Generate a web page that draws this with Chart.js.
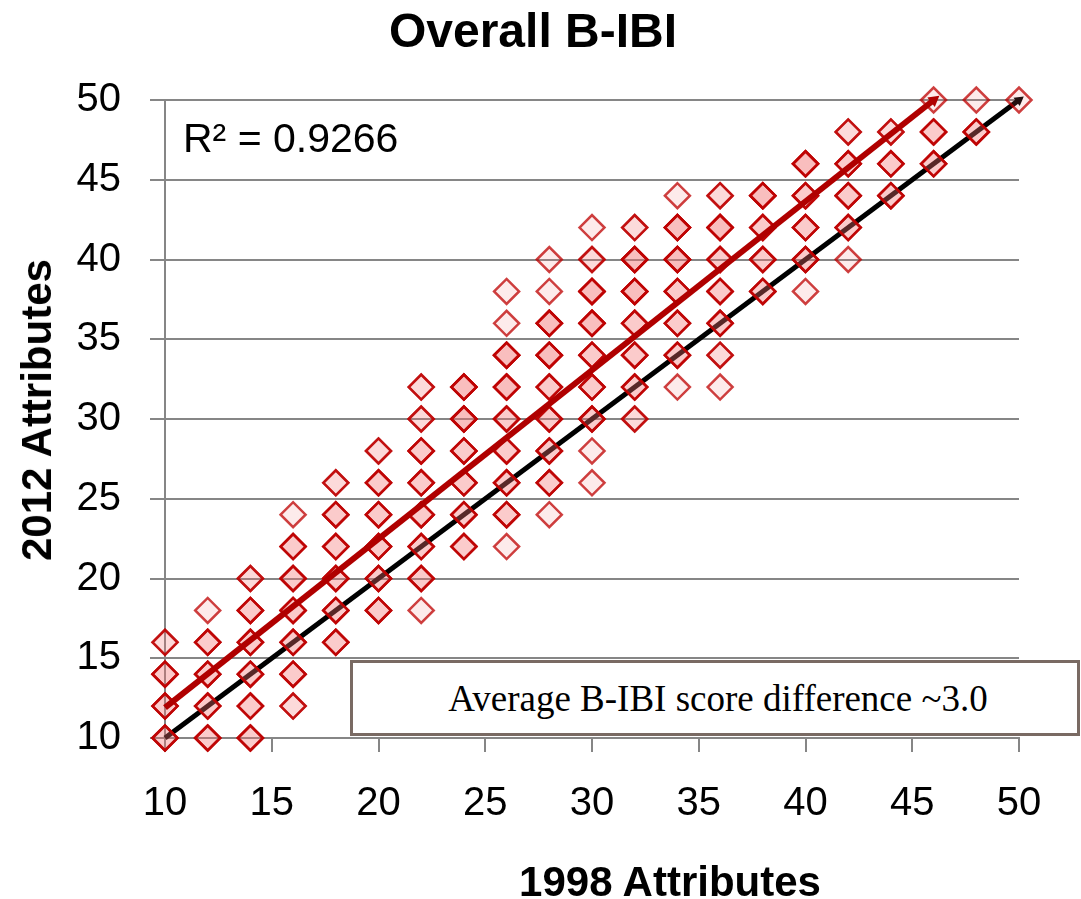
<!DOCTYPE html>
<html><head><meta charset="utf-8">
<script src="https://cdn.jsdelivr.net/npm/chart.js@4/dist/chart.umd.min.js"></script>
<style>
body{margin:0;background:#fff;}
#wrap{position:relative;width:1081px;height:899px;overflow:hidden;font-family:'Liberation Sans',Arial,sans-serif;background:#fff;}
canvas{position:absolute;left:0;top:0;}
.t{position:absolute;transform:translate(-50%,-50%);white-space:nowrap;line-height:1;color:#000;}
#box{position:absolute;left:350px;top:660px;width:730px;height:76px;box-sizing:border-box;border:3px solid #796a63;background:#fff;display:flex;align-items:center;justify-content:center;font-family:'Liberation Serif','Times New Roman',serif;font-size:37px;color:#000;padding-left:6px;}
</style></head><body>
<div id="wrap">
<canvas id="c" width="1081" height="899"></canvas>
<div class="t" style="left:533px;top:31px;font-size:48px;font-weight:bold;">Overall B-IBI</div>
<div class="t" style="left:670px;top:882px;font-size:42px;font-weight:bold;">1998 Attributes</div>
<div class="t" style="left:37px;top:410px;font-size:42px;font-weight:bold;transform:translate(-50%,-50%) rotate(-90deg);">2012 Attributes</div>
<div class="t" style="left:183px;top:138px;font-size:41px;transform:translate(0,-50%);">R² = 0.9266</div>
<div id="box">Average B-IBI score difference ~3.0</div>
</div>
<script>
// 1998 attribute score columns
const columns1998 = [10,12,14,16,18,20,22,24,26,28,30,32,34,36,38,40,42,44,46,48,50];
// 2012 attribute scores observed at each 1998 column
const scores2012 = [
  [16,14,12,10],
  [18,16,14,12,10],
  [20,18,16,14,12,10],
  [24,22,20,18,16,14,12],
  [26,24,22,20,18,16],
  [28,26,24,22,20,18],
  [32,30,28,26,24,22,20,18],
  [32,30,28,26,24,22],
  [38,36,34,32,30,28,26,24,22],
  [40,38,36,34,32,30,28,26,24],
  [42,40,38,36,34,32,30,28,26],
  [42,40,38,36,34,32,30],
  [44,42,40,38,36,34,32],
  [44,42,40,38,36,34,32],
  [44,42,40,38],
  [46,44,42,40,38],
  [48,46,44,42,40],
  [48,46,44],
  [50,48,46],
  [50,48],
  [50]
];
// number of overlapping sites at each point (estimated from shading)
const siteCounts = [
  [2,3,3,3],
  [1,3,3,3,3],
  [2,3,3,3,3,3],
  [1,3,3,3,3,3,2],
  [2,3,3,3,3,3],
  [2,3,3,3,3,3],
  [2,2,3,3,3,3,3,1],
  [4,4,3,3,3,3],
  [1,1,4,4,3,3,3,3,1],
  [1,1,4,4,3,3,3,3,1],
  [1,2,4,4,3,3,3,1,1],
  [2,4,4,3,3,3,2],
  [1,4,4,3,3,3,1],
  [2,4,3,3,3,2,1],
  [4,3,3,3],
  [4,3,3,3,1],
  [2,3,3,3,1],
  [2,3,3],
  [1,3,3],
  [1,3],
  [1]
];
// linear trend (R² = 0.9266)
const trendSlope = 1.058;
const trendIntercept = 1.32;
const axisMin = 10, axisMax = 50, tickStep = 5;

const scatterData = [];
columns1998.forEach((x, i) => scores2012[i].forEach((y, j) => {
  for (let k = 0; k < siteCounts[i][j]; k++) scatterData.push({x: x, y: y});
}));
const trendEndX = Math.min(axisMax, (axisMax - trendIntercept) / trendSlope);
const trendData = [{x: axisMin, y: trendSlope * axisMin + trendIntercept}, {x: trendEndX, y: trendSlope * trendEndX + trendIntercept}];
const oneToOne = [{x: axisMin, y: axisMin}, {x: axisMax, y: axisMax}];

const fam = "'Liberation Sans', Arial, sans-serif";
const gridCol = '#868686';
new Chart(document.getElementById('c'), {
  type: 'scatter',
  data: {datasets: [
    {type: 'line', data: trendData, borderColor: '#b00000', borderWidth: 6, pointRadius: [0, 7], pointStyle: 'triangle', pointRotation: [0, 52], pointBackgroundColor: '#b00000', pointBorderWidth: 0, order: 0, clip: false, fill: false},
    {data: scatterData, pointStyle: 'rectRot', pointRadius: 12.5, pointBorderWidth: 2.5, pointBackgroundColor: 'rgba(244,110,110,0.14)', pointBorderColor: 'rgba(190,0,0,0.75)', order: 1, clip: false},
    {type: 'line', data: oneToOne, borderColor: '#000', borderWidth: 5, pointRadius: [0, 6], pointStyle: 'triangle', pointRotation: [0, 53], pointBackgroundColor: '#000', pointBorderWidth: 0, order: 2, clip: false, fill: false}
  ]},
  options: {
    responsive: false, animation: false, events: [],
    plugins: {legend: {display: false}, tooltip: {enabled: false}, title: {display: false}},
    layout: {padding: {left: 0, right: 62, top: 100, bottom: 0}},
    scales: {
      x: {type: 'linear', min: axisMin, max: axisMax,
        ticks: {stepSize: tickStep, padding: 28, font: {family: fam, size: 40}, color: '#000'},
        grid: {drawOnChartArea: false, drawTicks: true, tickLength: 14, color: gridCol, lineWidth: 2},
        border: {color: gridCol, width: 2},
        afterFit: s => { s.height = 161; }},
      y: {type: 'linear', min: axisMin, max: axisMax,
        ticks: {stepSize: tickStep, padding: 29, font: {family: fam, size: 40}, color: '#000'},
        grid: {color: gridCol, lineWidth: 2, tickLength: 15},
        border: {color: gridCol, width: 2},
        afterFit: s => { s.width = 165; }}
    }
  }
});
</script>
</body></html>
